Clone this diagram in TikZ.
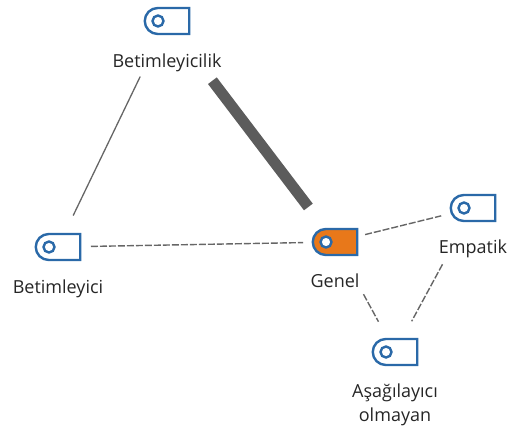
\documentclass[tikz,border=0pt]{standalone}
\usepackage{fontspec}
\setmainfont{Open Sans}
\usetikzlibrary{positioning,shapes.misc}
\definecolor{tagblue}{HTML}{2A69A8}
\definecolor{tagorange}{HTML}{E8781A}
\definecolor{linkgray}{HTML}{666666}
\begin{document}
\begin{tikzpicture}[
		x=1pt, y=-1pt
		,tag/.style={rounded rectangle, rounded rectangle right arc=none, draw=tagblue, line width=2.4pt, fill=white, minimum width=44.5pt, minimum height=26pt, inner sep=0pt}
		,hole/.style={circle, draw=tagblue, line width=2.4pt, fill=white, minimum size=11pt, inner sep=0pt}
		,txt/.style={font=\fontsize{18}{24}\selectfont, align=center, inner sep=0pt, text=black!85}
		,solidlink/.style={draw=linkgray, line width=1.3pt}
		,dashlink/.style={draw=linkgray, line width=1.4pt, dash pattern=on 7pt off 2pt}
		,heavylink/.style={draw=linkgray!90!black, line width=11pt}
	]
		\useasboundingbox (0,0) rectangle (513,426);
		\node [tag] (Tb) at (167,21) {};
		\node [tag] (Bi) at (58,247) {};
		\node [tag, fill=tagorange] (Ge) at (335,242) {};
		\node [tag] (Em) at (473,208) {};
		\node [tag] (As) at (395,352) {};
		\node [hole] (TbH) at ([xshift=-9pt]Tb.center) {};
		\node [hole] (BiH) at ([xshift=-9pt]Bi.center) {};
		\node [hole] (GeH) at ([xshift=-9pt]Ge.center) {};
		\node [hole] (EmH) at ([xshift=-9pt]Em.center) {};
		\node [hole] (AsH) at ([xshift=-9pt]As.center) {};
		\node [txt, below=18pt of Tb] (TbL) {Betimleyicilik};
		\node [txt, below=18pt of Bi] (BiL) {Betimleyici};
		\node [txt, below=17pt of Ge] (GeL) {Genel};
		\node [txt, below=17pt of Em] (EmL) {Empatik};
		\node [txt, below=17pt of As] (AsL) {Aşağılayıcı\\olmayan};
		\draw [solidlink, shorten <=61.7pt, shorten >=34.9pt] (Tb.center) -- (Bi.center);
		\draw [heavylink, shorten <=75pt, shorten >=44pt] (Tb.center) -- (Ge.center);
		\draw [dashlink, shorten <=33pt, shorten >=32pt] (Bi.center) -- (Ge.center);
		\draw [dashlink, shorten <=31pt, shorten >=32.8pt] (Ge.center) -- (Em.center);
		\draw [dashlink, shorten <=59.5pt, shorten >=34.5pt] (Ge.center) -- (As.center);
		\draw [dashlink, shorten <=64pt, shorten >=35pt] (Em.center) -- (As.center);
	\end{tikzpicture}
\end{document}
